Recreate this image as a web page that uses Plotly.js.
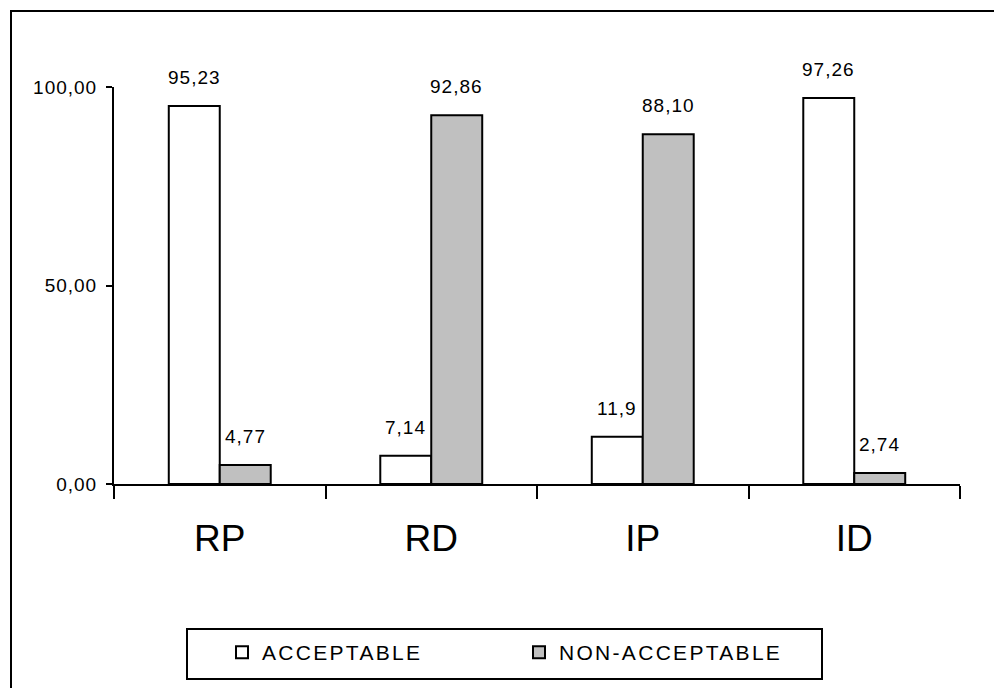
<!DOCTYPE html>
<html>
<head>
<meta charset="utf-8">
<script src="https://cdn.plot.ly/plotly-3.0.1.min.js"></script>
<style>
html, body { margin: 0; padding: 0; background: #fff; }
#chart { width: 994px; height: 688px; }
.annotation-text { letter-spacing: 1px; }
.ytick text { letter-spacing: 1px; }
.legendtext { letter-spacing: 2.3px; }
</style>
</head>
<body>
<div id="chart"></div>
<script>
// ---- data ----
const categories = ["RP", "RD", "IP", "ID"];
const acceptable = [95.23, 7.14, 11.9, 97.26];
const nonAcceptable = [4.77, 92.86, 88.10, 2.74];
const acceptableLabels = ["95,23", "7,14", "11,9", "97,26"];
const nonAcceptableLabels = ["4,77", "92,86", "88,10", "2,74"];
const seriesNames = ["ACCEPTABLE", "NON-ACCEPTABLE"];
const yTicks = [0, 50, 100];
const yTickLabels = ["0,00", "50,00", "100,00"];

const FONT = "Liberation Sans, Arial, sans-serif";

const traces = [
  {
    type: "bar", name: seriesNames[0], x: categories, y: acceptable,
    marker: { color: "#ffffff", line: { color: "#000000", width: 2 } },
    hoverinfo: "none"
  },
  {
    type: "bar", name: seriesNames[1], x: categories, y: nonAcceptable,
    marker: { color: "#c0c0c0", line: { color: "#000000", width: 2 } },
    hoverinfo: "none"
  }
];

const annotations = [];
const labelSets = [acceptableLabels, nonAcceptableLabels];
const valueSets = [acceptable, nonAcceptable];
const offsets = [-25.5, 25.5];
for (let s = 0; s < 2; s++) {
  for (let i = 0; i < categories.length; i++) {
    annotations.push({
      x: categories[i], y: valueSets[s][i], xref: "x", yref: "y",
      text: labelSets[s][i], showarrow: false,
      xanchor: "center", yanchor: "bottom",
      xshift: offsets[s], yshift: 16,
      font: { family: FONT, size: 19, color: "#000" }
    });
  }
}

const layout = {
  width: 994, height: 688,
  margin: { l: 114, r: 34, t: 87, b: 204, pad: 0 },
  paper_bgcolor: "#ffffff", plot_bgcolor: "#ffffff",
  barmode: "group", bargap: 0.518, bargroupgap: 0,
  showlegend: true,
  font: { family: FONT, color: "#000" },
  xaxis: {
    type: "category",
    showline: true, linecolor: "#000", linewidth: 2,
    ticks: "outside", tickson: "boundaries", ticklen: 13, tickwidth: 2, tickcolor: "#000",
    ticklabelstandoff: 21,
    tickfont: { family: FONT, size: 37, color: "#000" },
    showgrid: false, zeroline: false, fixedrange: true
  },
  yaxis: {
    range: [0, 100],
    tickvals: yTicks, ticktext: yTickLabels,
    showline: true, linecolor: "#000", linewidth: 2,
    ticks: "outside", ticklen: 6, tickwidth: 2, tickcolor: "#000",
    ticklabelstandoff: 5,
    tickfont: { family: FONT, size: 19, color: "#000" },
    showgrid: false, zeroline: false, fixedrange: true
  },
  legend: {
    orientation: "h",
    xref: "container", yref: "container",
    x: 222 / 994, xanchor: "left",
    y: 1 - 632 / 688, yanchor: "top",
    borderwidth: 0,
    entrywidth: 252,
    font: { family: FONT, size: 21, color: "#000" },
    bgcolor: "rgba(0,0,0,0)"
  },
  annotations: annotations,
  shapes: [
    // outer frame (extends past right and bottom edges)
    { type: "rect", xref: "paper", yref: "paper",
      x0: (11 - 114) / 846, x1: (1010 - 114) / 846,
      y0: (484 - 710) / 397, y1: (484 - 11) / 397,
      line: { color: "#000", width: 2 }, fillcolor: "rgba(0,0,0,0)" },
    // legend box
    { type: "rect", xref: "paper", yref: "paper",
      x0: (187 - 114) / 846, x1: (822 - 114) / 846,
      y0: (484 - 679) / 397, y1: (484 - 629) / 397,
      line: { color: "#000", width: 2 }, fillcolor: "rgba(0,0,0,0)" }
  ]
};

Plotly.newPlot("chart", traces, layout, { staticPlot: true, displayModeBar: false });
</script>
</body>
</html>
